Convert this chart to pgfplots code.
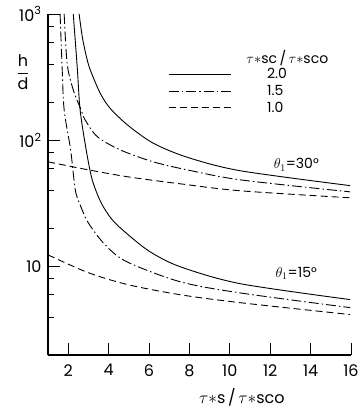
\documentclass[border=0pt]{standalone}
\usepackage{pgfplots}
\pgfplotsset{compat=1.18}
\usepackage{amsmath}
\usepackage{fontspec}
\setmainfont{Poppins}
\tikzset{
  sol/.style={line width=0.9pt, smooth, tension=0.5},
  dd/.style={line width=0.9pt, smooth, tension=0.5, dash pattern=on 10pt off 3pt on 1.5pt off 3pt},
  dsh/.style={line width=0.9pt, smooth, tension=0.5, dash pattern=on 7pt off 4pt},
}
\begin{document}
\begin{tikzpicture}
\begin{axis}[
  scale only axis, width=303pt, height=341pt,
  ymode=log, ymin=2, ymax=1000, xmin=1, xmax=16,
  axis x line=bottom, axis y line=left,
  axis line style={-, line width=1.4pt},
  xtick={2,4,...,16},
  ytick={10,100,1000},
  yticklabels={10, 10\textsuperscript{2}, 10\textsuperscript{3}},
  minor ytick={2,4,6,8,20,40,60,80,200,400,600,800},
  tick align=inside,
  major tick length=12pt, minor tick length=6pt,
  tick style={line width=0.9pt, black},
  /pgf/number format/assume math mode=true,
  tick label style={font=\fontsize{16}{18}\selectfont},
  xticklabel style={yshift=-6pt},
  yticklabel style={xshift=-3pt},
  xlabel={$\tau{\ast}$s\,/\,$\tau{\ast}$sco},
  xlabel style={font=\fontsize{16}{18}\selectfont, at={(rel axis cs:0.64,0)}, anchor=north, yshift=-30pt},
  clip mode=individual,
  legend style={draw=none, fill=none, at={(rel axis cs:0.396,0.847)}, anchor=north west, inner sep=0pt,
    font=\fontsize{14}{16}\selectfont, row sep=1pt,
    /tikz/every odd column/.append style={column sep=34pt}},
  legend image code/.code={\draw[#1] (0pt,0pt) -- (62pt,0pt);},
  legend cell align=left,
]
% theta = 30
\addplot[sol] coordinates {(2.54,1000) (2.70,656) (2.90,461) (3.09,362) (3.58,237) (4.08,179) (4.97,131) (6.21,95) (7.89,73.5) (10.51,57.5) (15.96,43.8)};
\addlegendentry{2.0}
\addplot[dd] coordinates {(1.80,1000) (1.95,402) (2.25,251) (2.64,174) (2.84,145) (3.44,107) (4.57,84.1) (6.21,67.6) (7.89,58.4) (10.51,48.7) (15.96,39.1)};
\addlegendentry{1.5}
\addplot[dsh] coordinates {(1.0,67.6) (3.0,58.4) (4.97,51.4) (7.54,45.3) (10.51,39.9) (15.96,35.1)};
\addlegendentry{1.0}
% theta = 15
\addplot[sol] coordinates {(2.25,1000) (2.45,374) (2.59,174) (2.89,84.1) (3.19,48.7) (3.63,32.1) (4.18,23.5) (4.97,17.9) (6.06,13.1) (7.54,10.0) (10.51,7.34) (15.96,5.49)};
\addplot[dd] coordinates {(1.60,1000) (1.70,374) (1.80,174) (2.12,84.1) (2.35,40.6) (2.59,30.9) (2.99,22.3) (3.78,15.2) (4.87,11.0) (7.54,7.6) (10.51,6.2) (15.96,4.74)};
\addplot[dsh] coordinates {(1.0,12.4) (2.99,8.97) (4.97,7.2) (7.54,6.0) (10.51,5.19) (15.96,4.18)};
\node[font=\fontsize{14}{16}\selectfont] at (rel axis cs:0.79,0.87) {$\tau{\ast}$sc\,/\,$\tau{\ast}$sco};
\node[font=\fontsize{14}{16}\selectfont] at (axis cs:13.29,64) {$\theta_1$=30°};
\node[font=\fontsize{14}{16}\selectfont] at (axis cs:13.29,8.81) {$\theta_1$=15°};
\coordinate (bbsw) at (rel axis cs:0,0);
\coordinate (bbne) at (rel axis cs:1,1);
\coordinate (bbnw) at (rel axis cs:0,1);
\end{axis}
\node[font=\fontsize{16}{18}\selectfont] at ([shift={(-25pt,-58pt)}]bbnw) {$\dfrac{\text{h}}{\text{d}}$};
\pgfresetboundingbox
\path[use as bounding box] ([shift={(-48pt,-53pt)}]bbsw) rectangle ([shift={(11pt,14pt)}]bbne);
\end{tikzpicture}
\end{document}
